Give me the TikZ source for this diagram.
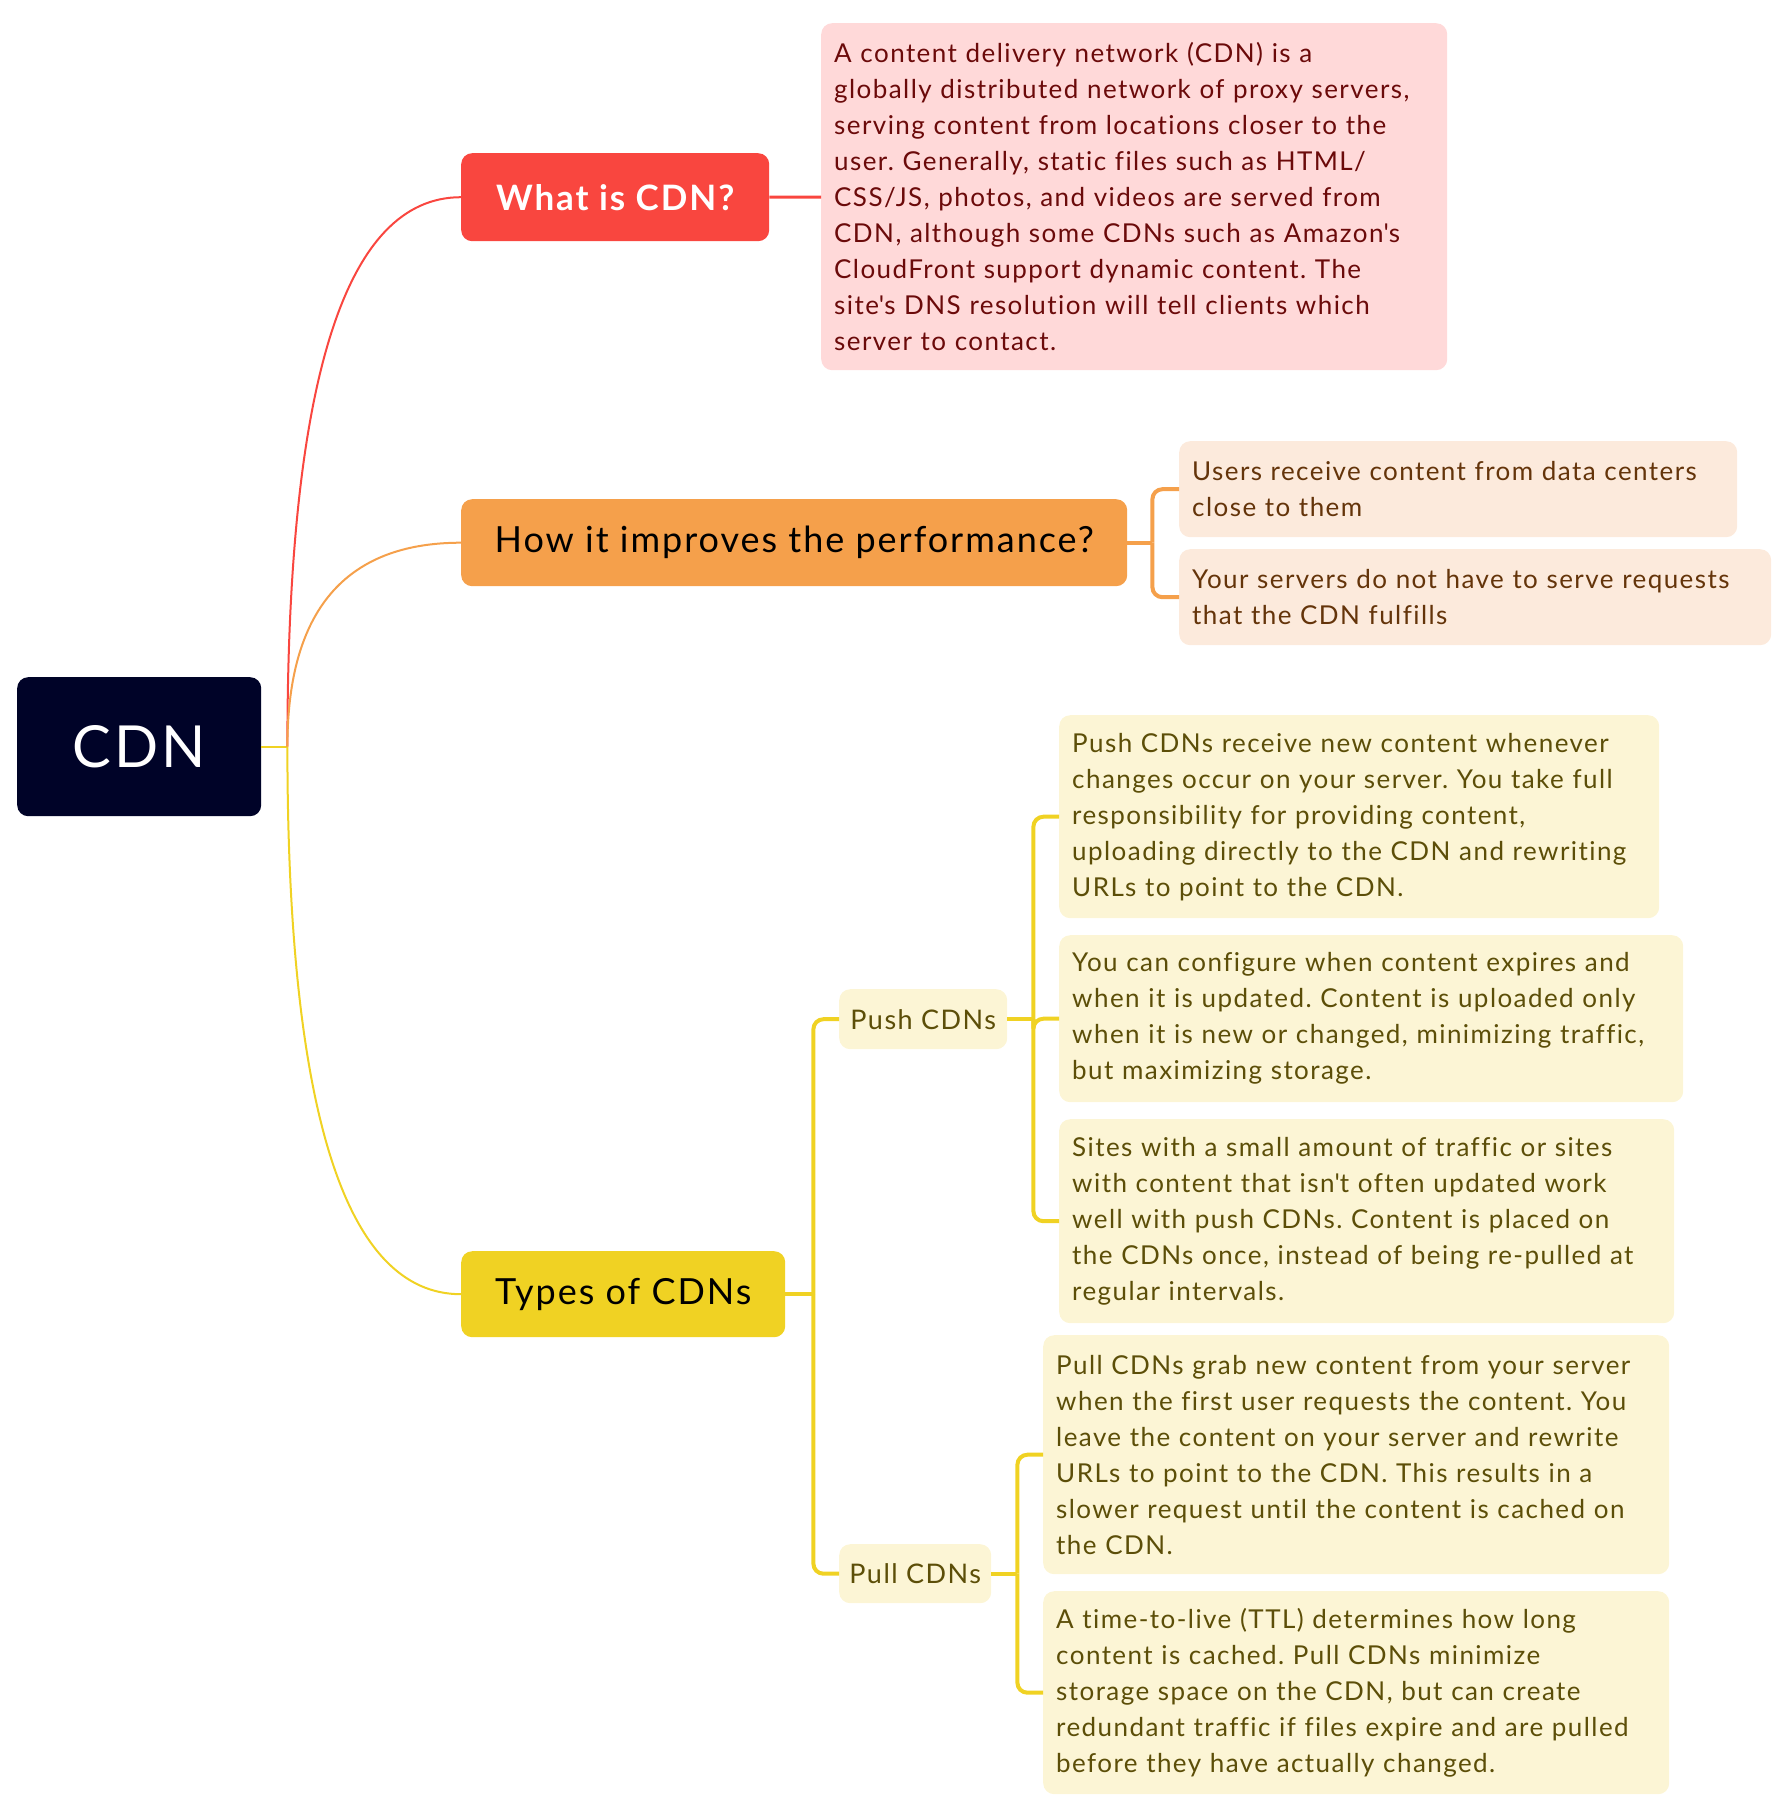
\documentclass[tikz,border=0pt]{standalone}
\usepackage{fontspec}
\setmainfont{Lato}[LetterSpace=5.5, Ligatures=NoCommon]
\frenchspacing
\usetikzlibrary{%
  calc,%
  positioning% wg. " of "
}

\definecolor{cdnnavy}{RGB}{0,3,40}
\definecolor{whatred}{RGB}{249,70,63}
\definecolor{whatfill}{RGB}{255,217,217}
\definecolor{whattext}{RGB}{107,10,10}
\definecolor{howorange}{RGB}{245,160,75}
\definecolor{howfill}{RGB}{252,234,220}
\definecolor{howtext}{RGB}{100,52,10}
\definecolor{typeyellow}{RGB}{240,210,35}
\definecolor{typefill}{RGB}{252,245,213}
\definecolor{typetext}{RGB}{92,78,8}

\begin{document}
\begin{tikzpicture}[
  x=1pt, y=-1pt,
  box/.style={rectangle, rounded corners=11pt, anchor=north west, inner xsep=13pt, inner ysep=0pt, align=left},
  root/.style={box, fill=cdnnavy, text=white, font=\fontsize{58}{64}\selectfont},
  topic/.style={box, font=\fontsize{36}{44}\selectfont},
  sub/.style={box, inner xsep=6pt, fill=typefill, text=typetext, font=\fontsize{27}{36}\selectfont},
  note/.style={box, font=\fontsize{26}{36}\selectfont},
  curve/.style={line width=2pt},
  fork/.style={line width=4pt, rounded corners=10pt}
]
\useasboundingbox (0,0) rectangle (1790,1814);

\node[root, minimum width=244pt, minimum height=139pt] (cdn) at (17,677) {CDN};
  \node[topic, fill=whatred, text=white, font=\fontsize{35}{44}\selectfont\bfseries,
    minimum width=308pt, minimum height=88pt] (cdn-what) at (461,153) {What is CDN?};
    \node[note, fill=whatfill, text=whattext, text width=600pt, minimum height=347pt] (cdn-what-1) at (821,23)
      {A content delivery network (CDN) is a\\
       globally distributed network of proxy servers,\\
       serving content from locations closer to the\\
       user. Generally, static files such as HTML/\\
       CSS/JS, photos, and videos are served from\\
       CDN, although some CDNs such as Amazon\textquotesingle s\\
       CloudFront support dynamic content. The\\
       site\textquotesingle s DNS resolution will tell clients which\\
       server to contact.};
  \node[topic, fill=howorange, text=black, minimum width=666pt, minimum height=87pt] (cdn-how) at (461,499)
    {How it improves the performance?};
    \node[note, fill=howfill, text=howtext, text width=532pt, minimum height=96pt] (cdn-how-1) at (1179,441)
      {Users receive content from data centers\\close to them};
    \node[note, fill=howfill, text=howtext, text width=566pt, minimum height=96pt] (cdn-how-2) at (1179,549)
      {Your servers do not have to serve requests\\that the CDN fulfills};
  \node[topic, fill=typeyellow, text=black, minimum width=324pt, minimum height=86pt] (cdn-types) at (461,1251)
    {Types of CDNs};
    \node[sub, minimum width=168pt, minimum height=60pt] (cdn-types-push) at (839,989) {Push CDNs};
      \node[note, fill=typefill, text=typetext, text width=574pt, minimum height=203pt] (cdn-types-push-1) at (1059,715)
        {Push CDNs receive new content whenever\\
         changes occur on your server. You take full\\
         responsibility for providing content,\\
         uploading directly to the CDN and rewriting\\
         URLs to point to the CDN.};
      \node[note, fill=typefill, text=typetext, text width=598pt, minimum height=167pt] (cdn-types-push-2) at (1059,935)
        {You can configure when content expires and\\
         when it is updated. Content is uploaded only\\
         when it is new or changed, minimizing traffic,\\
         but maximizing storage.};
      \node[note, fill=typefill, text=typetext, text width=589pt, minimum height=204pt] (cdn-types-push-3) at (1059,1119)
        {Sites with a small amount of traffic or sites\\
         with content that isn\textquotesingle t often updated work\\
         well with push CDNs. Content is placed on\\
         the CDNs once, instead of being re-pulled at\\
         regular intervals.};
    \node[sub, minimum width=152pt, minimum height=59pt] (cdn-types-pull) at (839,1544) {Pull CDNs};
      \node[note, fill=typefill, text=typetext, text width=600pt, minimum height=239pt] (cdn-types-pull-1) at (1043,1335)
        {Pull CDNs grab new content from your server\\
         when the first user requests the content. You\\
         leave the content on your server and rewrite\\
         URLs to point to the CDN. This results in a\\
         slower request until the content is cached on\\
         the CDN.};
      \node[note, fill=typefill, text=typetext, text width=600pt, minimum height=203pt] (cdn-types-pull-2) at (1043,1591)
        {A time-to-live (TTL) determines how long\\
         content is cached. Pull CDNs minimize\\
         storage space on the CDN, but can create\\
         redundant traffic if files expire and are pulled\\
         before they have actually changed.};

\coordinate (j) at ([xshift=26pt]cdn.east);
\coordinate (how-fork) at ([xshift=25pt]cdn-how.east);
\coordinate (types-fork) at ([xshift=28pt]cdn-types.east);
\coordinate (push-fork) at ([xshift=26pt]cdn-types-push.east);
\coordinate (pull-fork) at ([xshift=26pt]cdn-types-pull.east);

\draw[curve, typeyellow] (cdn) -- (j);
  \draw[curve, whatred] (j) .. controls ($(j)!0.667!(j |- cdn-what.west)$) and ($(cdn-what.west)!0.667!(j |- cdn-what.west)$) .. (cdn-what.west);
    \draw[line width=3pt, whatred] (cdn-what) -- (cdn-what-1);
  \draw[curve, howorange] (j) .. controls ($(j)!0.667!(j |- cdn-how.west)$) and ($(cdn-how.west)!0.667!(j |- cdn-how.west)$) .. (cdn-how.west);
    \draw[fork, howorange] (cdn-how) -- (how-fork);
    \draw[fork, howorange] (how-fork) |- (cdn-how-1.west);
    \draw[fork, howorange] (how-fork) |- (cdn-how-2.west);
  \draw[curve, typeyellow] (j) .. controls ($(j)!0.667!(j |- cdn-types.west)$) and ($(cdn-types.west)!0.667!(j |- cdn-types.west)$) .. (cdn-types.west);
    \draw[fork, typeyellow] (cdn-types) -- (types-fork);
    \draw[fork, typeyellow] (types-fork) |- (cdn-types-push.west);
    \draw[fork, typeyellow] (types-fork) |- (cdn-types-pull.west);
      \draw[fork, typeyellow] (cdn-types-push) -- (push-fork);
      \draw[fork, typeyellow] (push-fork) |- (cdn-types-push-1.west);
      \draw[fork, typeyellow] (push-fork) |- (cdn-types-push-2.west);
      \draw[fork, typeyellow] (push-fork) |- (cdn-types-push-3.west);
      \draw[fork, typeyellow] (cdn-types-pull) -- (pull-fork);
      \draw[fork, typeyellow] (pull-fork) |- (cdn-types-pull-1.west);
      \draw[fork, typeyellow] (pull-fork) |- (cdn-types-pull-2.west);
\end{tikzpicture}
\end{document}
